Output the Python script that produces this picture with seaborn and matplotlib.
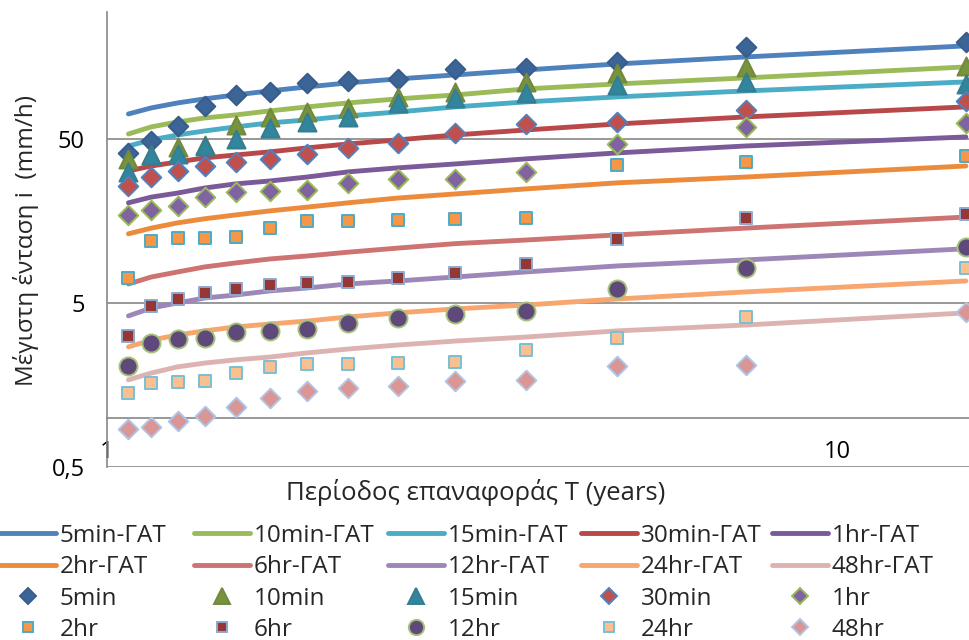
import matplotlib
matplotlib.use("Agg")
import matplotlib.pyplot as plt
from matplotlib.lines import Line2D
from matplotlib.ticker import FixedLocator, FixedFormatter, NullLocator
import pandas as pd
import seaborn as sns

# return period T (years) of the 14 ranked yearly maxima
return_period = [1.07, 1.15, 1.25, 1.36, 1.5, 1.67, 1.88, 2.14, 2.5, 3.0, 3.75, 5.0, 7.5, 15.0]

durations = ["5min", "10min", "15min", "30min", "1hr", "2hr", "6hr", "12hr", "24hr", "48hr"]

# observed max intensity (mm/h)
obs_5min = [41.1, 48.6, 60.0, 79.5, 92.7, 96.7, 109.8, 112.9, 116.1, 133.6, 135.5, 147.4, 182.0, 195.2]
obs_10min = [37.8, 39.9, 44.7, 46.0, 60.8, 68.1, 73.0, 77.3, 90.2, 96.7, 111.3, 126.3, 137.4, 139.3]
obs_15min = [31.5, 39.9, 40.5, 45.3, 50.0, 58.4, 63.5, 68.1, 82.9, 88.9, 95.4, 106.7, 111.3, 108.2]
obs_30min = [25.8, 29.3, 31.9, 34.2, 36.2, 37.8, 40.5, 44.1, 47.3, 54.4, 61.7, 63.5, 75.1, 85.2]
obs_1hr = [17.2, 18.5, 19.5, 22.1, 23.8, 24.1, 24.4, 27.0, 28.5, 28.5, 31.5, 46.6, 59.2, 62.6]
obs_2hr = [7.10, 11.9, 12.5, 12.5, 12.6, 14.3, 15.8, 15.8, 16.0, 16.3, 16.5, 34.7, 36.2, 39.4]
obs_6hr = [3.15, 4.79, 5.29, 5.75, 6.09, 6.44, 6.62, 6.71, 7.10, 7.62, 8.65, 12.3, 16.5, 17.4]
obs_12hr = [2.06, 2.85, 3.02, 3.06, 3.33, 3.38, 3.47, 3.78, 4.05, 4.28, 4.47, 6.09, 8.17, 10.98]
obs_24hr = [1.41, 1.63, 1.65, 1.67, 1.87, 2.04, 2.12, 2.12, 2.15, 2.18, 2.58, 3.06, 4.11, 8.17]
obs_48hr = [0.85, 0.877, 0.954, 1.02, 1.16, 1.32, 1.45, 1.52, 1.56, 1.67, 1.70, 2.06, 2.09, 4.41]

# fitted curves ΓΑΤ (mm/h), same T values
fit_5min = [71.0, 77.3, 82.9, 87.7, 92.7, 98.1, 103.8, 109.8, 116.1, 122.8, 131.7, 143.3, 158.1, 184.6]
fit_10min = [53.6, 59.2, 63.5, 67.1, 70.0, 74.1, 78.4, 82.9, 87.7, 92.7, 100.9, 108.2, 117.8, 137.4]
fit_15min = [45.3, 49.3, 52.9, 55.9, 59.2, 62.6, 65.3, 69.1, 73.0, 78.4, 84.1, 90.2, 98.1, 111.3]
fit_30min = [31.9, 34.2, 36.2, 38.3, 39.9, 41.7, 44.1, 46.6, 49.3, 52.9, 56.7, 61.7, 68.1, 78.4]
fit_1hr = [20.4, 22.1, 23.4, 25.1, 26.6, 27.7, 29.3, 31.5, 33.3, 35.2, 37.8, 41.1, 45.3, 51.4]
fit_2hr = [13.2, 14.3, 15.4, 16.3, 17.2, 18.2, 19.2, 20.4, 21.8, 23.1, 24.8, 27.0, 29.3, 34.2]
fit_6hr = [6.53, 7.20, 7.73, 8.29, 8.77, 9.27, 9.67, 10.2, 10.8, 11.5, 12.1, 13.0, 14.3, 16.7]
fit_12hr = [4.17, 4.66, 5.00, 5.36, 5.59, 5.92, 6.17, 6.53, 6.81, 7.20, 7.73, 8.41, 9.15, 10.7]
fit_24hr = [2.70, 2.97, 3.19, 3.38, 3.57, 3.72, 3.88, 4.11, 4.35, 4.60, 4.86, 5.29, 5.84, 6.81]
fit_48hr = [1.70, 1.87, 2.04, 2.15, 2.25, 2.34, 2.48, 2.62, 2.77, 2.93, 3.10, 3.38, 3.67, 4.35]

observed = [obs_5min, obs_10min, obs_15min, obs_30min, obs_1hr,
            obs_2hr, obs_6hr, obs_12hr, obs_24hr, obs_48hr]
fitted = [fit_5min, fit_10min, fit_15min, fit_30min, fit_1hr,
          fit_2hr, fit_6hr, fit_12hr, fit_24hr, fit_48hr]

line_colors = ["#4F81BD", "#9BBB59", "#4BACC6", "#B8484A", "#7A5A99",
               "#EC8B3C", "#CD7371", "#9C87B8", "#F8A56E", "#DDB3B2"]
# (marker, size, face, edge)
marker_styles = [
    ("D", 10, "#3B6497", "#385D8A"),
    ("^", 13, "#77933C", "#71893F"),
    ("^", 13, "#31859C", "#357D91"),
    ("D", 10, "#C0504D", "#4F81BD"),
    ("D", 10, "#8064A2", "#9BBB59"),
    ("s", 8, "#F79646", "#4BACC6"),
    ("s", 8, "#953735", "#8EA8D0"),
    ("o", 13, "#5F497A", "#A6C27A"),
    ("s", 8, "#FAC090", "#78BFD4"),
    ("D", 10, "#D99694", "#B0C4E4"),
]

rows = []
for d, obs, fit in zip(durations, observed, fitted):
    for t, o, f in zip(return_period, obs, fit):
        rows.append({"T": t, "duration": d, "obs": o, "fit": f})
df = pd.DataFrame(rows)

sns.set_theme(style="white")
plt.rcParams["font.family"] = ["Open Sans", "DejaVu Sans"]
grey = "#868686"

fig = plt.figure(figsize=(9.69, 6.4), dpi=100)
ax = fig.add_axes([107 / 969, 1 - 467 / 640, 1 - 107 / 969, 455 / 640])
ax.set_xscale("log")
ax.set_yscale("log")

for d, c in zip(durations, line_colors):
    sns.lineplot(data=df[df["duration"] == d], x="T", y="fit", color=c, lw=3.5,
                 ax=ax, legend=False, zorder=2)

for d, (m, ms, fc, ec) in zip(durations, marker_styles):
    sns.scatterplot(data=df[df["duration"] == d], x="T", y="obs", marker=m, s=ms ** 2,
                    color=fc, edgecolor=ec, linewidth=1.4, ax=ax, legend=False, zorder=3)

ax.set_xlim(1, 15.15)
ax.set_ylim(0.5, 297)

ax.xaxis.set_major_locator(FixedLocator([1, 10]))
ax.xaxis.set_major_formatter(FixedFormatter(["1", "10"]))
ax.yaxis.set_major_locator(FixedLocator([0.5, 5, 50]))
ax.yaxis.set_major_formatter(FixedFormatter(["0,5", "5", "50"]))
ax.xaxis.set_minor_locator(NullLocator())
ax.yaxis.set_minor_locator(NullLocator())

ax.yaxis.grid(True, color=grey, lw=1.2)
ax.xaxis.grid(False)
ax.set_axisbelow(True)
ax.spines["top"].set_visible(False)
ax.spines["right"].set_visible(False)
ax.spines["left"].set_color(grey)
ax.spines["left"].set_linewidth(1.2)
ax.spines["bottom"].set_color(grey)
ax.spines["bottom"].set_linewidth(1.2)
ax.spines["bottom"].set_position(("data", 1))
ax.tick_params(axis="both", direction="out", length=5, width=1.2, color=grey,
               labelsize=17, pad=11, labelcolor="black")
ax.set_xlabel("")
ax.set_ylabel("")

fig.text(26 / 969, 1 - 241 / 640, "Μέγιστη ένταση i  (mm/h)", rotation=90,
         ha="center", va="center", fontsize=17.5)
fig.text(476 / 969, 1 - 492 / 640, "Περίοδος επαναφοράς T (years)",
         ha="center", va="center", fontsize=18.5)

# legend: 4 rows x 5 columns, filled row by row
line_handles = [Line2D([], [], color=c, lw=3.5) for c in line_colors]
marker_handles = [Line2D([], [], ls="none", marker=m, ms=ms * 0.85, mfc=fc, mec=ec, mew=1.4)
                  for m, ms, fc, ec in marker_styles]
col_x = [0, 194, 388, 581, 772]
for j, x in enumerate(col_x):
    hs = [line_handles[j], line_handles[j + 5], marker_handles[j], marker_handles[j + 5]]
    ls = [durations[j] + "-ΓΑΤ", durations[j + 5] + "-ΓΑΤ", durations[j], durations[j + 5]]
    fig.legend(hs, ls, loc="upper left", bbox_to_anchor=(x / 969, 1 - 524 / 640),
               frameon=False, fontsize=17.5, handlelength=2.3, handletextpad=0.16,
               borderpad=0, borderaxespad=0, labelspacing=0.3, numpoints=1)

fig.savefig("out.png", dpi=100)
